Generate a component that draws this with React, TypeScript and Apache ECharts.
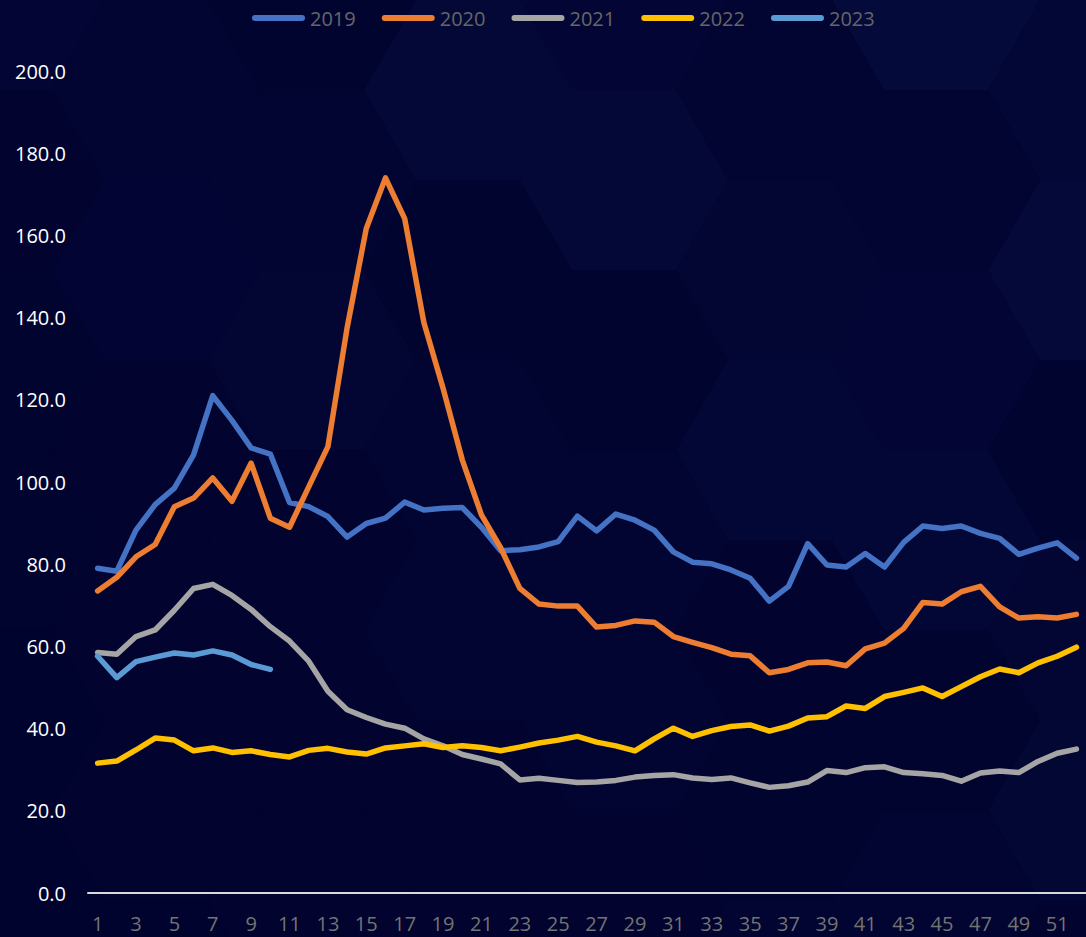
import React, { useEffect, useRef } from "react";
import * as echarts from "echarts";

const weeks: string[] = Array.from({ length: 52 }, (_, i) => String(i + 1));

const seriesNames = ["2019", "2020", "2021", "2022", "2023"];
const seriesColors = ["#4472C4", "#ED7D31", "#A5A5A5", "#FFC000", "#5B9BD5"];

const y2019 = [79.0, 78.3, 88.3, 94.5, 98.5, 106.6, 121.0, 115.0, 108.3, 106.8, 95.0, 94.0, 91.6, 86.6, 89.9, 91.2, 95.1, 93.2, 93.6, 93.8, 89.0, 83.3, 83.5, 84.2, 85.5, 91.7, 88.1, 92.2, 90.7, 88.3, 83.0, 80.5, 80.1, 78.6, 76.6, 71.0, 74.6, 85.0, 79.8, 79.3, 82.6, 79.3, 85.3, 89.3, 88.7, 89.3, 87.5, 86.3, 82.4, 83.9, 85.2, 81.5];
const y2020 = [73.5, 76.8, 81.8, 84.8, 94.0, 96.1, 101.0, 95.3, 104.6, 91.2, 89.0, 98.8, 108.6, 137.5, 161.7, 174.0, 164.1, 138.8, 122.8, 105.4, 92.0, 84.0, 74.1, 70.3, 69.8, 69.8, 64.7, 65.1, 66.2, 65.9, 62.4, 61.0, 59.7, 58.1, 57.7, 53.6, 54.4, 56.0, 56.2, 55.3, 59.4, 60.8, 64.4, 70.7, 70.3, 73.3, 74.6, 69.6, 66.9, 67.2, 66.9, 67.8];
const y2021 = [58.5, 58.1, 62.4, 64.0, 68.8, 74.1, 75.1, 72.4, 69.0, 64.8, 61.3, 56.4, 49.1, 44.6, 42.7, 41.1, 40.1, 37.5, 35.8, 33.7, 32.6, 31.4, 27.5, 27.9, 27.4, 26.9, 27.0, 27.4, 28.2, 28.6, 28.8, 28.0, 27.6, 28.0, 26.8, 25.7, 26.1, 27.0, 29.8, 29.3, 30.5, 30.7, 29.3, 29.0, 28.6, 27.2, 29.2, 29.7, 29.3, 32.0, 34.0, 35.0];
const y2022 = [31.6, 32.1, 34.8, 37.7, 37.2, 34.6, 35.3, 34.2, 34.6, 33.7, 33.1, 34.7, 35.2, 34.3, 33.8, 35.3, 35.8, 36.3, 35.4, 35.8, 35.4, 34.6, 35.5, 36.5, 37.2, 38.1, 36.7, 35.8, 34.6, 37.5, 40.1, 38.1, 39.5, 40.5, 40.9, 39.4, 40.6, 42.6, 42.9, 45.5, 44.9, 47.8, 48.8, 49.9, 47.8, 50.2, 52.6, 54.5, 53.6, 56.0, 57.6, 59.8];
const y2023 = [57.6, 52.4, 56.3, 57.4, 58.4, 57.9, 58.9, 57.9, 55.6, 54.4];

const seriesData = [y2019, y2020, y2021, y2022, y2023];

const W = 1086;
const H = 937;

function buildHexagons() {
  const R = 104;
  const hh = R * Math.sqrt(3);
  const els: any[] = [];
  const levels = [0.95, 0.55, 0.2];
  for (let col = -1; col <= Math.ceil(W / (1.5 * R)) + 1; col++) {
    for (let row = -1; row <= Math.ceil(H / hh) + 1; row++) {
      const cx = col * 1.5 * R;
      const cy = row * hh + (Math.abs(col) % 2 === 1 ? hh / 2 : 0);
      const pts: number[][] = [];
      for (let k = 0; k < 6; k++) {
        const a = (Math.PI / 3) * k;
        pts.push([cx + R * Math.cos(a), cy + R * Math.sin(a)]);
      }
      let t = 0.6 * (cx / W) + 0.6 * (1 - cy / H) - 0.15;
      t = Math.max(0, Math.min(1, t));
      const lv = levels[(((col + 2 * row) % 3) + 3) % 3];
      const alpha = 0.02 + 0.14 * t * lv;
      els.push({
        type: "polygon",
        silent: true,
        z: -10,
        shape: { points: pts },
        style: { fill: `rgba(22,52,135,${alpha.toFixed(3)})`, stroke: null },
      });
    }
  }
  return els;
}

export default function App() {
  const ref = useRef<HTMLDivElement>(null);
  useEffect(() => {
    if (!ref.current) return;
    const chart = echarts.init(ref.current, undefined, { renderer: "svg" });
    const legendIcon = "path://M3,0 L50,0 A3,3 0 0 1 50,6 L3,6 A3,3 0 0 1 3,0 Z";
    chart.setOption({
      animation: false,
      backgroundColor: "#02032d",
      graphic: { elements: buildHexagons() },
      legend: {
        top: 3,
        left: 247,
        itemWidth: 53,
        itemHeight: 6,
        itemGap: 26,
        icon: legendIcon,
        textStyle: { color: "#666666", fontSize: 20, fontFamily: "Open Sans" },
        data: seriesNames.map((n, i) => ({ name: n, itemStyle: { color: seriesColors[i] } })),
      },
      grid: { left: 88, right: -12, top: 71, bottom: 44, containLabel: false },
      xAxis: {
        type: "category",
        data: weeks,
        boundaryGap: true,
        axisLine: { show: true, lineStyle: { color: "#d9d9d9", width: 2 } },
        axisTick: { show: false },
        axisLabel: {
          interval: 1,
          color: "#737373",
          fontSize: 20,
          fontFamily: "Open Sans",
          margin: 20,
        },
        splitLine: { show: false },
      },
      yAxis: {
        type: "value",
        min: 0,
        max: 200,
        interval: 20,
        axisLine: { show: false },
        axisTick: { show: false },
        splitLine: { show: false },
        axisLabel: {
          color: "#ffffff",
          fontSize: 20,
          fontFamily: "Open Sans",
          margin: 22,
          formatter: (v: number) => v.toFixed(1),
        },
      },
      series: seriesNames.map((n, i) => ({
        name: n,
        type: "line",
        data: seriesData[i],
        showSymbol: false,
        symbol: "none",
        color: seriesColors[i],
        lineStyle: { width: 5.5, color: seriesColors[i], cap: "round", join: "round" },
        z: 2 + i,
      })),
    });
    return () => chart.dispose();
  }, []);
  return (
    <div
      ref={ref}
      style={{ position: "fixed", left: 0, top: 0, width: W, height: H }}
    />
  );
}
